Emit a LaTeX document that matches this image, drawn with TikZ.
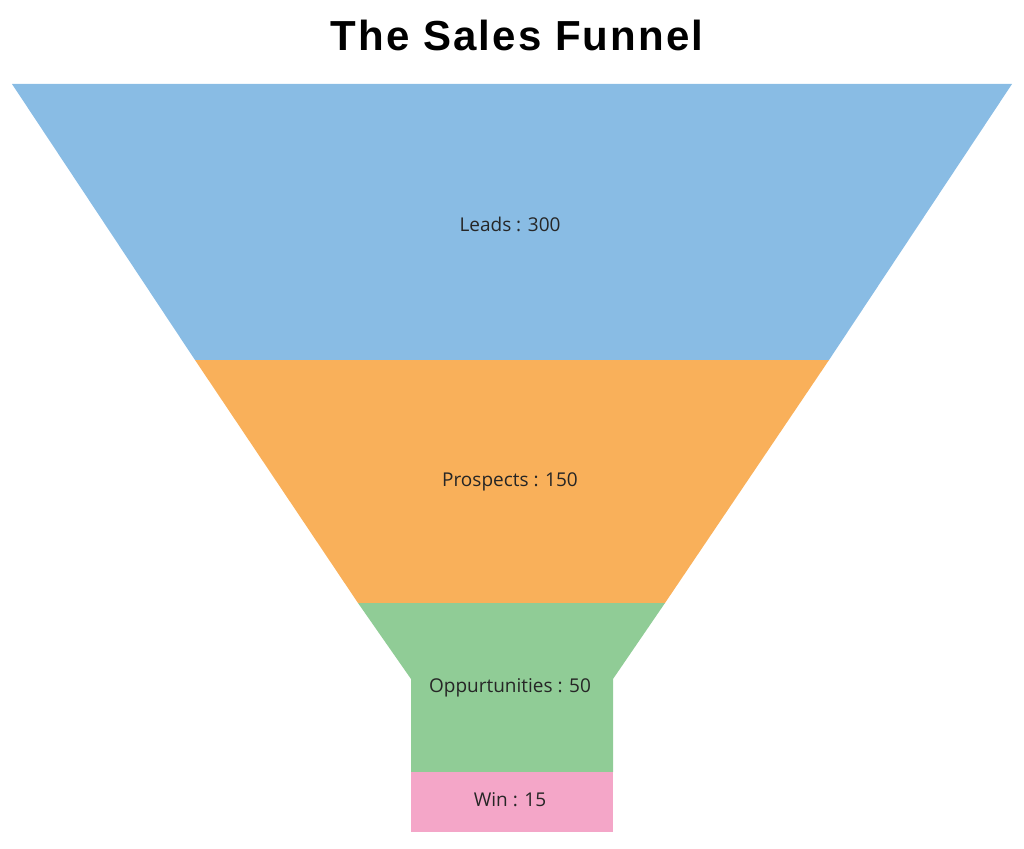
\documentclass[tikz,border=0pt]{standalone}
\usepackage{fontspec}
\setmainfont{Liberation Sans}
\newfontfamily\lblfont{Open Sans}
\newfontfamily\ttlfont[LetterSpace=5]{Liberation Sans Bold}
\usepackage{tikz}
\usetikzlibrary{positioning}
\definecolor{leadblue}{HTML}{89BCE4}
\definecolor{prosorange}{HTML}{F9B05A}
\definecolor{oppgreen}{HTML}{90CC96}
\definecolor{winpink}{HTML}{F4A6C8}
\begin{document}
\begin{tikzpicture}[x=1pt,y=-1pt]
\tikzstyle{lbl}=[inner sep =1 pt, font=\lblfont\fontsize{19}{22}\selectfont, text=black!85]
\tikzstyle{ttl}=[inner sep =0 pt, font=\ttlfont\fontsize{42}{50}\selectfont]
\useasboundingbox (0,0) rectangle (1024,848);
% funnel parts
\fill[leadblue] (12,84) -- (1012,84) -- (829,360) -- (195,360) -- cycle;
\fill[prosorange] (195,360) -- (829,360) -- (665,603) -- (358,603) -- cycle;
\fill[oppgreen] (358,603) -- (665,603) -- (613,679) -- (613,772) -- (411,772) -- (411,679) -- cycle;
\fill[winpink] (411,772) rectangle (613,832);
% labels
\node[ttl] (title) at (517,35) {The Sales Funnel};
\foreach \n/\y/\t in {leads/224/Leads : 300,prospects/482/Prospects : 150,opps/688/Oppurtunities : 50,win/800/Win : 15}{\node[lbl] (\n) at (510,\y) {\t};}
\end{tikzpicture}
\end{document}
